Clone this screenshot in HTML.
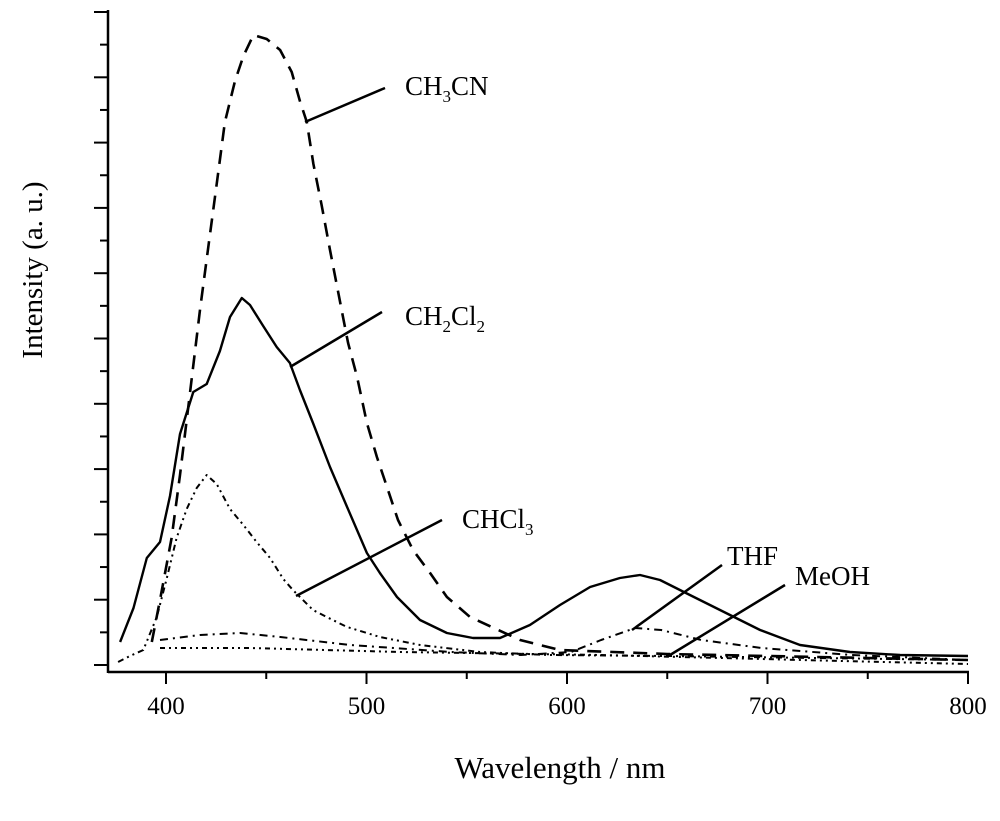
<!DOCTYPE html>
<html><head><meta charset="utf-8"><style>
body{margin:0;background:#fff}
svg{display:block;font-family:"Liberation Serif",serif}
</style></head><body>
<svg id="chart" width="1000" height="821" viewBox="0 0 1000 821">
<g id="axes"></g>
<g id="series"></g>
<g id="labels"></g>
</svg>
<script>
const xTicks=[400,500,600,700,800];
const xMinor=[450,550,650,750];
const ch3cnX=[392.9,397,402.8,407,412,417,421.1,425.3,429.4,434.4,438.6,443.6,450.2,456.9,462.7,466.8,470.2,473.5,477.6,481.8,488.3,490.8,495.3,500.2,505.2,510.7,515.7,523.2,531.7,540.1,551.6,576.6,596.5,650,800];
const ch3cnY=[30,72,134,197,280,363,425,488,550,591,616,637,633,622,600,571,550,508,467,422,355,329,295,249,215,182,152,122,99,75,55,32,22,18,12];
const ch2cl2X=[377.1,383.8,390.4,397,402,407,413.6,420.3,426.9,431.9,437.8,441.9,448.5,455.2,461.8,466.8,473.3,481.8,490.3,500.2,506.7,515.2,526.7,540.1,553.1,566.6,581.5,596.5,611.5,626.4,636.4,646.4,661.3,676.3,696.3,716.2,741.1,766.1,800];
const ch2cl2Y=[30,64,114,130,176,238,280,288,321,355,374,367,346,325,309,282,249,205,165,119,99,75,52,39,34,34,47,67,85,94,97,92,77,62,42,27,20,17,16];
const chcl3X=[376.1,382,388.7,395.4,400.3,405.3,410.3,415.3,420.3,425.3,431.9,438.6,445.2,451.9,458.5,463.3,473.3,480.1,490.3,506.7,526.7,556.6,591.5,650,800];
const chcl3Y=[10,16,22,55,93,134,163,184,197,188,163,147,130,114,93,82,62,55,45,35,27,20,17,16,12];
const thfX=[397,417,437,457,492,542,577,602,617,634,647,667,697,742,800];
const thfY=[32,37,39,35,27,20,17,20,32,44,42,32,24,17,12];
const meohX=[397,442,517,617,717,800];
const meohY=[24,24,20,17,12,8];
const seriesDefs=[
 ["ch3cn-curve",ch3cnX,ch3cnY,"14 9",2.6],
 ["ch2cl2-curve",ch2cl2X,ch2cl2Y,"",2.4],
 ["chcl3-curve",chcl3X,chcl3Y,"6 4 2 4 2 4",2],
 ["thf-curve",thfX,thfY,"8 5 2 5",2],
 ["meoh-curve",meohX,meohY,"5 4 2 4 2 4",2]
];
const NS="http://www.w3.org/2000/svg";
function sx(v){return 166+(v-400)*2.005;}
function sy(v){return 672-v;}
function mk(tag,attrs,parent){const e=document.createElementNS(NS,tag);for(const k in attrs)e.setAttribute(k,attrs[k]);parent.appendChild(e);return e;}
const axes=document.getElementById('axes');
let l=mk('line',{x1:108,y1:672,x2:969,y2:672,stroke:'#000','stroke-width':2.5},axes);


l=mk('line',{x1:108,y1:10,x2:108,y2:673,stroke:'#000','stroke-width':2.5},axes);


xTicks.forEach(t=>{
 const x=sx(t);
 let tk=mk('line',{x1:x,y1:672,x2:x,y2:684,stroke:'#000','stroke-width':2},axes);
 
 
 let tx=mk('text',{x:x,y:714,'font-size':25,'text-anchor':'middle'},axes);tx.textContent=t;
 
 
});
xMinor.forEach(t=>{
 let tk=mk('line',{x1:sx(t),y1:672,x2:sx(t),y2:679,stroke:'#000','stroke-width':2},axes);
 
 
});
for(let i=0;i<=20;i++){
 const y=12+i*32.65;
 let tk=mk('line',{x1:i%2==0?94:100,y1:y,x2:108,y2:y,stroke:'#000','stroke-width':2},axes);
 
 
}
let t=mk('text',{x:560,y:778,'font-size':31,'text-anchor':'middle'},axes);t.textContent='Wavelength / nm';


t=mk('text',{x:0,y:0,'font-size':29,'text-anchor':'middle',transform:'translate(42,270) rotate(-90)'},axes);t.textContent='Intensity (a. u.)';


const sg=document.getElementById('series');
seriesDefs.forEach(d=>{
 const pts=d[1].map((x,i)=>sx(x).toFixed(1)+','+sy(d[2][i]).toFixed(1)).join(' ');
 const p=mk('polyline',{points:pts,fill:'none',stroke:'#000','stroke-width':d[4],'stroke-linejoin':'round'},sg);
 if(d[3])p.setAttribute('stroke-dasharray',d[3]);
 
 
});
const lg=document.getElementById('labels');
const labs=[
 ["ch3cn-label",305,122,385,88,405,95,'CH<tspan font-size="17" dy="7">3</tspan><tspan dy="-7">CN</tspan>'],
 ["ch2cl2-label",290,367,382,312,405,325,'CH<tspan font-size="17" dy="7">2</tspan><tspan dy="-7">Cl</tspan><tspan font-size="17" dy="7">2</tspan>'],
 ["chcl3-label",296,596,442,520,462,528,'CHCl<tspan font-size="17" dy="7">3</tspan>'],
 ["thf-label",632,630,722,565,727,565,'THF'],
 ["meoh-label",670,655,785,585,795,585,'MeOH']
];
labs.forEach(a=>{
 let ln=mk('line',{x1:a[1],y1:a[2],x2:a[3],y2:a[4],stroke:'#000','stroke-width':2.5},lg);
 
 
 let tx=mk('text',{x:a[5],y:a[6],'font-size':27},lg);tx.innerHTML=a[7];
 
 
});
</script>
</body></html>
